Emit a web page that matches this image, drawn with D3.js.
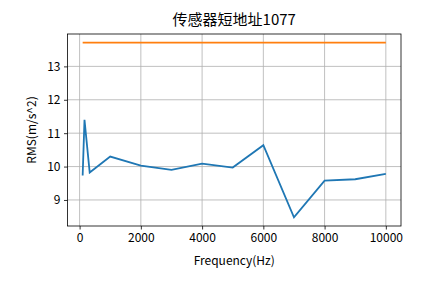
<!DOCTYPE html>
<html>
<head>
<meta charset="utf-8">
<script src="https://cdn.jsdelivr.net/npm/d3@7"></script>
<style>
  body { margin: 0; background: #fff; }
  text { font-family: "Noto Sans CJK SC", sans-serif; fill: #000; }
</style>
</head>
<body>
<div id="chart"></div>
<script>
// Data
const freqs = [100, 160, 330, 1000, 2000, 3000, 4000, 5000, 6000, 7000, 8000, 9000, 10000];
const rms = [9.73, 11.40, 9.82, 10.30, 10.03, 9.90, 10.09, 9.97, 10.64, 8.48, 9.58, 9.62, 9.78];
const limitValue = 13.71;
const xTicks = [0, 2000, 4000, 6000, 8000, 10000];
const yTicks = [9, 10, 11, 12, 13];

const width = 445;
const height = 283;
const margin = { top: 34, right: 44, bottom: 57, left: 67.5 };

const svg = d3.select("#chart")
    .append("svg")
    .attr("width", width)
    .attr("height", height);

const x = d3.scaleLinear()
    .domain([-395, 10495])
    .range([margin.left, width - margin.right]);

const y = d3.scaleLinear()
    .domain([8.22, 13.97])
    .range([height - margin.bottom, margin.top]);

// Grid lines
const grid = svg.append("g");
grid.selectAll(".gx")
    .data(xTicks)
    .enter()
    .append("line")
    .attr("x1", d => x(d)).attr("x2", d => x(d))
    .attr("y1", margin.top).attr("y2", height - margin.bottom)
    .attr("stroke", "#b0b0b0").attr("stroke-width", 0.8);
grid.selectAll(".gy")
    .data(yTicks)
    .enter()
    .append("line")
    .attr("x1", margin.left).attr("x2", width - margin.right)
    .attr("y1", d => y(d)).attr("y2", d => y(d))
    .attr("stroke", "#b0b0b0").attr("stroke-width", 0.8);

// Lines
const line = d3.line()
    .x((d, i) => x(freqs[i]))
    .y(d => y(d));

svg.append("path")
    .datum(rms)
    .attr("d", line)
    .attr("fill", "none")
    .attr("stroke", "#1f77b4")
    .attr("stroke-width", 1.8);

svg.append("path")
    .datum(freqs.map(() => limitValue))
    .attr("d", line)
    .attr("fill", "none")
    .attr("stroke", "#ff7f0e")
    .attr("stroke-width", 1.8);

// Axes
const xAxis = svg.append("g")
    .attr("transform", `translate(0,${height - margin.bottom})`)
    .call(d3.axisBottom(x).tickValues(xTicks).tickSize(3.5).tickPadding(3.5).tickFormat(d3.format("d")));

const yAxis = svg.append("g")
    .attr("transform", `translate(${margin.left},0)`)
    .call(d3.axisLeft(y).tickValues(yTicks).tickSize(3.5).tickPadding(3.5).tickFormat(d3.format("d")));

[xAxis, yAxis].forEach(a => {
    a.select(".domain").remove();
    a.selectAll("text").attr("font-size", 12).style("font-family", "'Noto Sans CJK SC', sans-serif");
    a.selectAll("line").attr("stroke", "#000").attr("stroke-width", 0.8);
});

// Frame
svg.append("rect")
    .attr("x", margin.left)
    .attr("y", margin.top)
    .attr("width", width - margin.left - margin.right)
    .attr("height", height - margin.top - margin.bottom)
    .attr("fill", "none")
    .attr("stroke", "#000")
    .attr("stroke-width", 0.8);

// Labels
svg.append("text")
    .attr("x", (margin.left + width - margin.right) / 2)
    .attr("y", 25)
    .attr("text-anchor", "middle")
    .attr("font-size", 15)
    .text("传感器短地址1077");

svg.append("text")
    .attr("x", (margin.left + width - margin.right) / 2)
    .attr("y", 265)
    .attr("text-anchor", "middle")
    .attr("font-size", 12)
    .text("Frequency(Hz)");

svg.append("text")
    .attr("transform", `translate(36,${(margin.top + height - margin.bottom) / 2}) rotate(-90)`)
    .attr("text-anchor", "middle")
    .attr("font-size", 12)
    .text("RMS(m/s^2)");
</script>
</body>
</html>
